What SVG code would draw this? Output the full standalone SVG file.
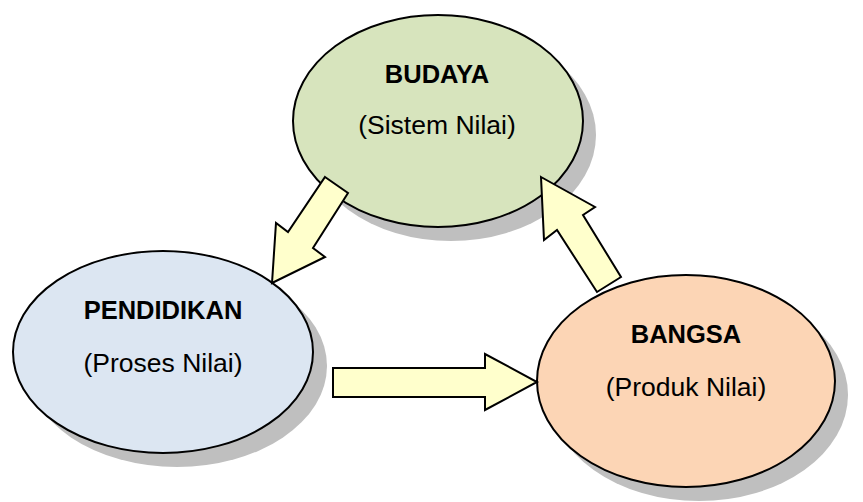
<svg xmlns="http://www.w3.org/2000/svg" width="863" height="502" viewBox="0 0 863 502">
<style>
.shadow{fill:#bfbfbf;stroke:none}
.node{stroke:#000;stroke-width:2}
.arrow{fill:#ffffcc;stroke:#000;stroke-width:2;stroke-linejoin:miter}
.t{font-family:"Liberation Sans",Arial,sans-serif;font-size:26.5px;fill:#000;text-anchor:middle}
.b{font-weight:bold;font-size:25.5px}
</style>
<rect width="863" height="502" fill="#fff"/>
<g id="budaya">
<ellipse class="shadow" cx="451" cy="135" rx="145" ry="106"/>
<ellipse class="node" cx="438" cy="121" rx="145" ry="106" fill="#d7e4bd"/>
<text class="t b" x="437" y="83">BUDAYA</text>
<text class="t" x="437" y="134">(Sistem Nilai)</text>
</g>
<g id="pendidikan">
<ellipse class="shadow" cx="177" cy="366" rx="150" ry="101"/>
<ellipse class="node" cx="163" cy="352" rx="150" ry="101" fill="#dce6f2"/>
<text class="t b" x="163" y="319">PENDIDIKAN</text>
<text class="t" x="163" y="372">(Proses Nilai)</text>
</g>
<g id="bangsa">
<ellipse class="shadow" cx="699" cy="395" rx="149" ry="106"/>
<ellipse class="node" cx="686" cy="381" rx="149" ry="106" fill="#fcd5b5"/>
<text class="t b" x="686" y="343">BANGSA</text>
<text class="t" x="686" y="396">(Produk Nilai)</text>
</g>
<g id="connectors">
<polygon class="arrow" points="325,177 348,193 313,248 325,257 272,283 276,223 288,232"/>
<polygon class="arrow" points="333,368 485,368 485,354 537,382 485,410 485,397 333,397"/>
<polygon class="arrow" points="541,177 595,207 583,215 621,277 597,292 557,230 544,240"/>
</g>
</svg>
